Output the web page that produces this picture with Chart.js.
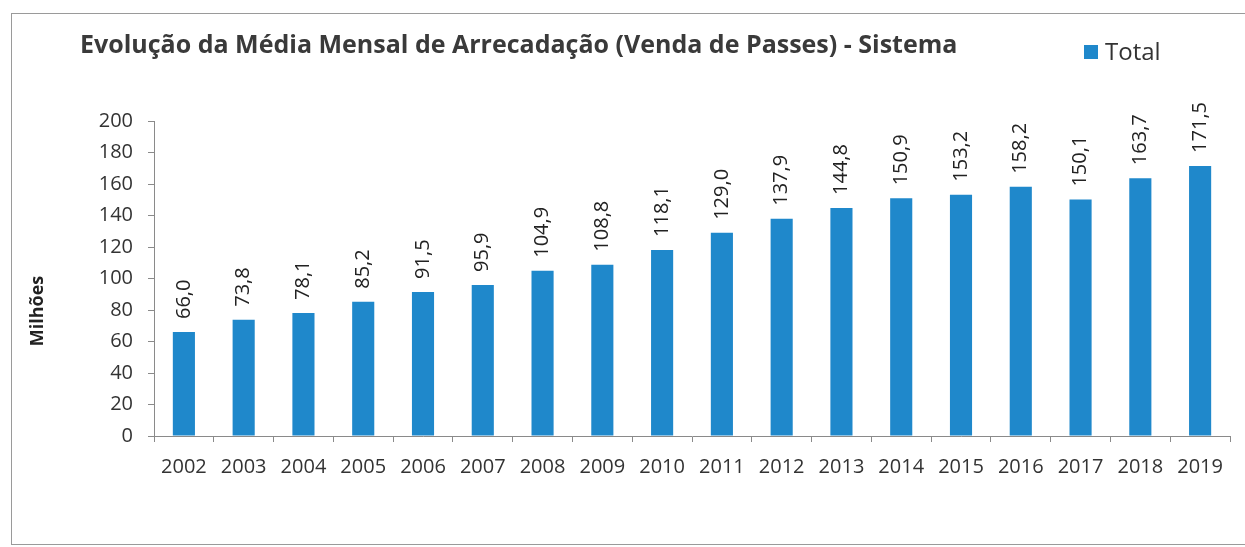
<!DOCTYPE html>
<html>
<head>
<meta charset="utf-8">
<script src="https://cdn.jsdelivr.net/npm/chart.js@4"></script>
<style>
  html, body { margin: 0; padding: 0; background: #fff; }
  #wrap { width: 1245px; height: 547px; position: relative; }
</style>
</head>
<body>
<div id="wrap"><canvas id="mainCanvas" width="1245" height="547"></canvas></div>
<script>
const years = ["2002", "2003", "2004", "2005", "2006", "2007", "2008", "2009", "2010",
               "2011", "2012", "2013", "2014", "2015", "2016", "2017", "2018", "2019"];
const totals = [66.0, 73.8, 78.1, 85.2, 91.5, 95.9, 104.9, 108.8, 118.1,
                129.0, 137.9, 144.8, 150.9, 153.2, 158.2, 150.1, 163.7, 171.5];
const chartTitle = "Evolução da Média Mensal de Arrecadação (Venda de Passes) - Sistema";
const axisTitle = "Milhões";
const seriesName = "Total";

const barColor = '#1f88cb';
const textColor = '#333333';
const axisColor = '#8a8a8a';
const fontFamily = "'Open Sans', 'Liberation Sans', sans-serif";

// frame, title, legend and y-axis title
const decorations = {
    id: 'decorations',
    beforeDraw(chart) {
        const ctx = chart.ctx;
        ctx.save();
        ctx.fillStyle = '#fff';
        ctx.fillRect(0, 0, chart.width, chart.height);
        ctx.strokeStyle = '#9a9a9a';
        ctx.lineWidth = 1;
        ctx.strokeRect(11.5, 13.5, 1240, 531);
        ctx.restore();
    },
    afterDraw(chart) {
        const ctx = chart.ctx;
        ctx.save();
        ctx.fillStyle = '#3a3a3a';
        ctx.font = "bold 25px " + fontFamily;
        ctx.textAlign = 'left';
        ctx.textBaseline = 'alphabetic';
        ctx.fillText(chartTitle, 80, 53);

        // legend
        ctx.fillStyle = barColor;
        ctx.fillRect(1084, 45, 14, 14);
        ctx.fillStyle = textColor;
        ctx.font = "24px " + fontFamily;
        ctx.textBaseline = 'middle';
        ctx.fillText(seriesName, 1105, 53);

        // y axis title
        ctx.translate(38, 311);
        ctx.rotate(-Math.PI / 2);
        ctx.font = "bold 18px " + fontFamily;
        ctx.textAlign = 'center';
        ctx.fillStyle = '#222';
        ctx.fillText(axisTitle, 0, 0);
        ctx.restore();
    }
};

// rotated value labels above each bar
const barLabels = {
    id: 'barLabels',
    afterDatasetsDraw(chart) {
        const ctx = chart.ctx;
        const meta = chart.getDatasetMeta(0);
        ctx.save();
        ctx.fillStyle = '#222';
        ctx.font = "20px " + fontFamily;
        ctx.textAlign = 'left';
        ctx.textBaseline = 'middle';
        meta.data.forEach((bar, i) => {
            const txt = totals[i].toFixed(1).replace('.', ',');
            ctx.save();
            ctx.translate(bar.x, bar.y - 13);
            ctx.rotate(-Math.PI / 2);
            ctx.fillText(txt, 0, 0);
            ctx.restore();
        });
        ctx.restore();
    }
};

const chart = new Chart(document.getElementById('mainCanvas'), {
    type: 'bar',
    data: {
        labels: years,
        datasets: [{
            label: seriesName,
            data: totals,
            backgroundColor: barColor,
            borderWidth: 0,
            categoryPercentage: 1.0,
            barPercentage: 0.37
        }]
    },
    options: {
        responsive: false,
        animation: false,
        layout: { padding: { top: 121, left: 25, right: 15, bottom: 0 } },
        plugins: {
            legend: { display: false },
            title: { display: false },
            tooltip: { enabled: false }
        },
        scales: {
            x: {
                afterFit(scale) { scale.height = 111; },
                grid: {
                    drawOnChartArea: false,
                    drawTicks: true,
                    tickLength: 6,
                    color: axisColor,
                    offset: true
                },
                border: { color: axisColor, width: 1 },
                ticks: {
                    color: textColor,
                    font: { family: fontFamily, size: 20 },
                    padding: 13,
                    maxRotation: 0,
                    autoSkip: false
                }
            },
            y: {
                min: 0,
                max: 200,
                afterFit(scale) { scale.width = 129; },
                grid: {
                    drawOnChartArea: false,
                    drawTicks: true,
                    tickLength: 6,
                    color: axisColor
                },
                border: { color: axisColor, width: 1 },
                ticks: {
                    stepSize: 20,
                    color: textColor,
                    font: { family: fontFamily, size: 20 },
                    padding: 15
                }
            }
        }
    },
    plugins: [decorations, barLabels]
});
</script>
</body>
</html>
